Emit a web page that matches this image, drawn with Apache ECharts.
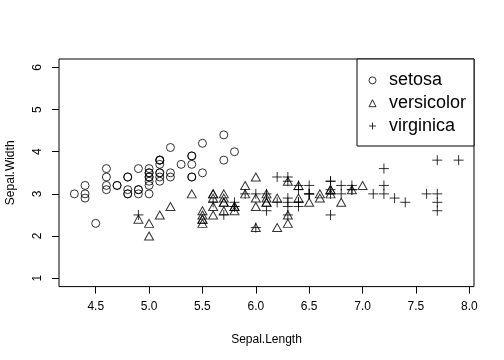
<!DOCTYPE html>
<html>
<head>
<meta charset="utf-8">
<script src="https://cdn.jsdelivr.net/npm/echarts@6/dist/echarts.min.js"></script>
<style>
  html, body { margin: 0; padding: 0; background: #fff; }
  #main { width: 504px; height: 360px; }
</style>
</head>
<body>
<div id="main"></div>
<script>
// iris: [Sepal.Length, Sepal.Width]
var setosa = [
  [5.1,3.5],[4.9,3.0],[4.7,3.2],[4.6,3.1],[5.0,3.6],[5.4,3.9],[4.6,3.4],[5.0,3.4],[4.4,2.9],[4.9,3.1],
  [5.4,3.7],[4.8,3.4],[4.8,3.0],[4.3,3.0],[5.8,4.0],[5.7,4.4],[5.4,3.9],[5.1,3.5],[5.7,3.8],[5.1,3.8],
  [5.4,3.4],[5.1,3.7],[4.6,3.6],[5.1,3.3],[4.8,3.4],[5.0,3.0],[5.0,3.4],[5.2,3.5],[5.2,3.4],[4.7,3.2],
  [4.8,3.1],[5.4,3.4],[5.2,4.1],[5.5,4.2],[4.9,3.1],[5.0,3.2],[5.5,3.5],[4.9,3.6],[4.4,3.0],[5.1,3.4],
  [5.0,3.5],[4.5,2.3],[4.4,3.2],[5.0,3.5],[5.1,3.8],[4.8,3.0],[5.1,3.8],[4.6,3.2],[5.3,3.7],[5.0,3.3]
];
var versicolor = [
  [7.0,3.2],[6.4,3.2],[6.9,3.1],[5.5,2.3],[6.5,2.8],[5.7,2.8],[6.3,3.3],[4.9,2.4],[6.6,2.9],[5.2,2.7],
  [5.0,2.0],[5.9,3.0],[6.0,2.2],[6.1,2.9],[5.6,2.9],[6.7,3.1],[5.6,3.0],[5.8,2.7],[6.2,2.2],[5.6,2.5],
  [5.9,3.2],[6.1,2.8],[6.3,2.5],[6.1,2.8],[6.4,2.9],[6.6,3.0],[6.8,2.8],[6.7,3.0],[6.0,2.9],[5.7,2.6],
  [5.5,2.4],[5.5,2.4],[5.8,2.7],[6.0,2.7],[5.4,3.0],[6.0,3.4],[6.7,3.1],[6.3,2.3],[5.6,3.0],[5.5,2.5],
  [5.5,2.6],[6.1,3.0],[5.8,2.6],[5.0,2.3],[5.6,2.7],[5.7,3.0],[5.7,2.9],[6.2,2.9],[5.1,2.5],[5.7,2.8]
];
var virginica = [
  [6.3,3.3],[5.8,2.7],[7.1,3.0],[6.3,2.9],[6.5,3.0],[7.6,3.0],[4.9,2.5],[7.3,2.9],[6.7,2.5],[7.2,3.6],
  [6.5,3.2],[6.4,2.7],[6.8,3.0],[5.7,2.5],[5.8,2.8],[6.4,3.2],[6.5,3.0],[7.7,3.8],[7.7,2.6],[6.0,2.2],
  [6.9,3.2],[5.6,2.8],[7.7,2.8],[6.3,2.7],[6.7,3.3],[7.2,3.2],[6.2,2.8],[6.1,3.0],[6.4,2.8],[7.2,3.0],
  [7.4,2.8],[7.9,3.8],[6.4,2.8],[6.3,2.8],[6.1,2.6],[7.7,3.0],[6.3,3.4],[6.4,3.1],[6.0,3.0],[6.9,3.1],
  [6.7,3.1],[6.9,3.1],[5.8,2.7],[6.8,3.2],[6.7,3.3],[6.7,3.0],[6.3,2.5],[6.5,3.0],[6.2,3.4],[5.9,3.0]
];
var xTicks = [4.5, 5.0, 5.5, 6.0, 6.5, 7.0, 7.5, 8.0];
var yTicks = [1, 2, 3, 4, 5, 6];
var species = ['setosa', 'versicolor', 'virginica'];

var font = 'Liberation Sans, Arial, Helvetica, sans-serif';
var plusPath = 'path://M0,5L10,5M5,0L5,10';
var open = { color: 'rgba(0,0,0,0)', borderColor: '#000', borderWidth: 1 };

var chart = echarts.init(document.getElementById('main'), null, { renderer: 'canvas' });

chart.setOption({
  animation: false,
  backgroundColor: '#fff',
  grid: {
    left: 59, right: 30, top: 59, bottom: 73.4,
    outerBoundsMode: 'none', containLabel: false,
    show: true, borderColor: '#000', borderWidth: 1, backgroundColor: 'transparent'
  },
  xAxis: {
    type: 'value', min: 4.156, max: 8.044,
    name: 'Sepal.Length', nameLocation: 'middle', nameGap: 47,
    nameTextStyle: { fontFamily: font, fontSize: 12, color: '#000' },
    axisLine: { show: false },
    splitLine: { show: false },
    axisTick: { show: true, length: 7, lineStyle: { color: '#000' }, customValues: xTicks },
    axisLabel: {
      customValues: xTicks, margin: 14, fontFamily: font, fontSize: 12, color: '#000',
      formatter: function (v) { return v.toFixed(1); }
    }
  },
  yAxis: {
    type: 'value', min: 0.8, max: 6.2,
    name: 'Sepal.Width', nameLocation: 'middle', nameGap: 42, nameRotate: 90,
    nameTextStyle: { fontFamily: font, fontSize: 12, color: '#000' },
    axisLine: { show: false },
    splitLine: { show: false },
    axisTick: { show: true, length: 7, lineStyle: { color: '#000' }, customValues: yTicks },
    axisLabel: {
      customValues: yTicks, rotate: 90, margin: 15, fontFamily: font, fontSize: 12, color: '#000',
      formatter: function (v) { return String(v); }
    }
  },
  graphic: [{
    type: 'rect', z: 50,
    shape: { x: 357, y: 59, width: 117, height: 87 },
    style: { fill: '#fff', stroke: '#000', lineWidth: 1 }
  }],
  legend: {
    orient: 'vertical', left: 368.5, top: 69, z: 60, padding: 0,
    itemWidth: 7, itemHeight: 7, itemGap: 0,
    data: species,
    itemStyle: open,
    textStyle: { fontFamily: font, fontSize: 18, color: '#000', lineHeight: 22.8, padding: [0, 0, 0, 8] }
  },
  series: [
    { name: species[0], type: 'scatter', data: setosa, symbol: 'circle', symbolSize: 8, itemStyle: open },
    { name: species[1], type: 'scatter', data: versicolor, symbol: 'triangle', symbolSize: [9, 8], itemStyle: open },
    { name: species[2], type: 'scatter', data: virginica, symbol: plusPath, symbolSize: 10, itemStyle: open }
  ]
});
</script>
</body>
</html>
